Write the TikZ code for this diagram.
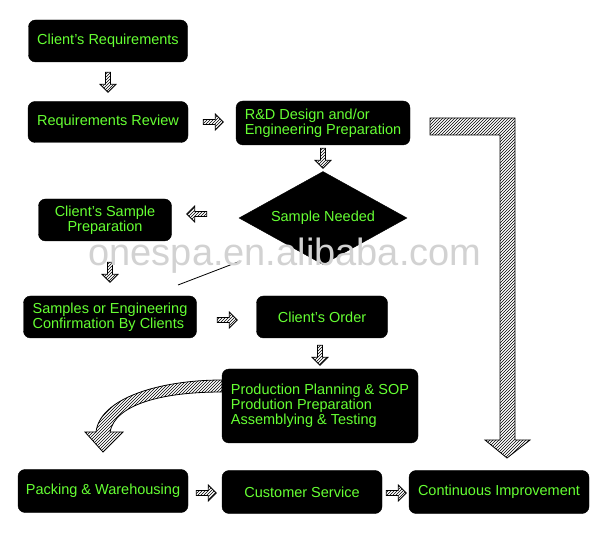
\documentclass[tikz,border=0pt]{standalone}
\usepackage{fontspec}
\setmainfont{Liberation Sans}
\usetikzlibrary{shapes.geometric,shapes.arrows,patterns}
\definecolor{txt}{RGB}{102,255,51}
\tikzset{
 box/.style={draw=black,fill=black,rounded corners=7pt,text=txt,font=\fontsize{14.5}{15}\selectfont,align=center,inner sep=2pt},
 sa/.style={single arrow,draw=black,thick,pattern=north east lines,minimum height=20pt,minimum width=16pt,single arrow head extend=3pt,inner sep=1pt},
 hatch/.style={draw=black,thick,pattern=north east lines}
}
\begin{document}
\begin{tikzpicture}[x=1pt,y=-1pt]
\useasboundingbox (0,0) rectangle (600,534);
\node[box,minimum width=159pt,minimum height=42pt] (cr) at (108,41) {Client's Requirements};
\node[box,minimum width=160pt,minimum height=41pt] (rr) at (108,122) {Requirements Review};
\node[box,minimum width=174pt,minimum height=44pt,align=left] (rd) at (323,123) {R\&D Design and/or\\Engineering Preparation};
\node[diamond,draw,fill=black,text=txt,font=\fontsize{14.5}{14}\selectfont,minimum width=168pt,minimum height=93pt,aspect=1.8,inner sep=-6pt] (sn) at (323,218) {Sample Needed};
\node[box,minimum width=133pt,minimum height=42pt] (sp) at (105,220) {Client's Sample\\Preparation};
\node[box,minimum width=173pt,minimum height=42pt,align=left] (sc) at (110,317) {Samples or Engineering\\Confirmation By Clients};
\node[box,minimum width=131pt,minimum height=42pt] (co) at (322,317) {Client's Order};
\node[box,minimum width=196pt,minimum height=74pt,align=left] (pp) at (320,406) {Production Planning \& SOP\\Prodution Preparation\\Assemblying \& Testing};
\node[box,minimum width=170pt,minimum height=43pt] (pw) at (103,491) {Packing \& Warehousing};
\node[box,minimum width=160pt,minimum height=43pt] (cs) at (302,492) {Customer Service};
\node[box,minimum width=180pt,minimum height=43pt] (ci) at (499,492) {Continuous Improvement};
% small arrows
\node[sa,rotate=-90] (a1) at (108,81) {};
\node[sa] (a2) at (212,122) {};
\node[sa,rotate=-90] (a3) at (323,157) {};
\node[sa,rotate=180] (a4) at (198,214) {};
\node[sa,rotate=-90] (a5) at (110,271) {};
\node[sa] (a6) at (226,320) {};
\node[sa,rotate=-90] (a7) at (320,354) {};
\node[sa] (a8) at (205,493) {};
\node[sa] (a9) at (395,493) {};
\coordinate (l1) at (238,262);
\coordinate (l2) at (178,285);
\draw[thick] (l1) -- (l2);
% big L arrow
\path[hatch] (430,118) -- (515,118) -- (515,440) -- (530,440) -- (507,458) -- (485,440) -- (500,440) -- (500,135) -- (430,135) -- cycle;
% curved arrow
\path[hatch] (222,392) .. controls (160,392) and (115,405) .. (110,432) -- (123,432) -- (103,452) -- (85,432) -- (96,432) .. controls (100,398) and (160,380) .. (222,380) -- cycle;
% watermark
\node[font=\fontsize{38}{38}\selectfont,text=gray!35] (wm) at (285,256) {onespa.en.alibaba.com};
\end{tikzpicture}
\end{document}
